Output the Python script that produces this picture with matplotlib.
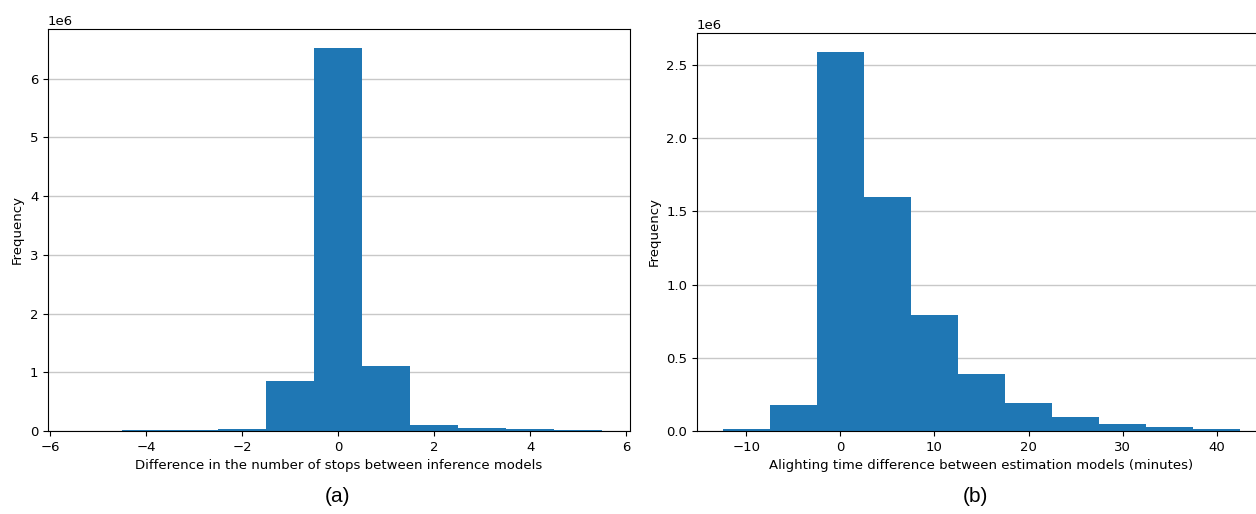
""" stop / alighting difference histograms """

import numpy as np
import matplotlib.pyplot as plt

# (a) difference in number of stops, bins of width 1
stop_edges = [-4.5, -3.5, -2.5, -1.5, -0.5, 0.5, 1.5, 2.5, 3.5, 4.5, 5.5]
stop_counts = [15000, 15000, 32000, 850000, 6520000, 1110000, 100000, 45000, 30000, 11000]

# (b) alighting time difference (minutes), bins of width 5
time_edges = [-12.5, -7.5, -2.5, 2.5, 7.5, 12.5, 17.5, 22.5, 27.5, 32.5, 37.5, 42.5]
time_counts = [15000, 180000, 2590000, 1600000, 795000, 390000, 190000, 95000, 45000, 25000, 12000]

FONT = 9.5

fig = plt.figure(figsize=(12.56, 5.14), dpi=100)

ax1 = fig.add_axes([48 / 1256, 83 / 514, 582 / 1256, 402 / 514])
ax1.hist(stop_edges[:-1], bins=stop_edges, weights=stop_counts, color="#1f77b4")
ax1.set_xlim(-6.04, 6.08)
ax1.set_xlabel("Difference in the number of stops between inference models", fontsize=FONT)
ax1.set_ylabel("Frequency", fontsize=FONT)

ax2 = fig.add_axes([697 / 1256, 83 / 514, 569 / 1256, 398 / 514])
ax2.hist(time_edges[:-1], bins=time_edges, weights=time_counts, color="#1f77b4")
ax2.set_xlabel("Alighting time difference between estimation models (minutes)", fontsize=FONT)
ax2.set_ylabel("Frequency", fontsize=FONT)

for ax in (ax1, ax2):
    ax.grid(axis="y", color="#c8c8c8", linewidth=1)
    ax.set_axisbelow(True)
    ax.tick_params(labelsize=FONT)
    ax.yaxis.get_offset_text().set_fontsize(FONT)

fig.text(337 / 1256, 17 / 514, "(a)", fontsize=15, family="Liberation Sans",
         ha="center", va="center")
fig.text(975 / 1256, 17 / 514, "(b)", fontsize=15, family="Liberation Sans",
         ha="center", va="center")

fig.savefig("out.png", dpi=100)
